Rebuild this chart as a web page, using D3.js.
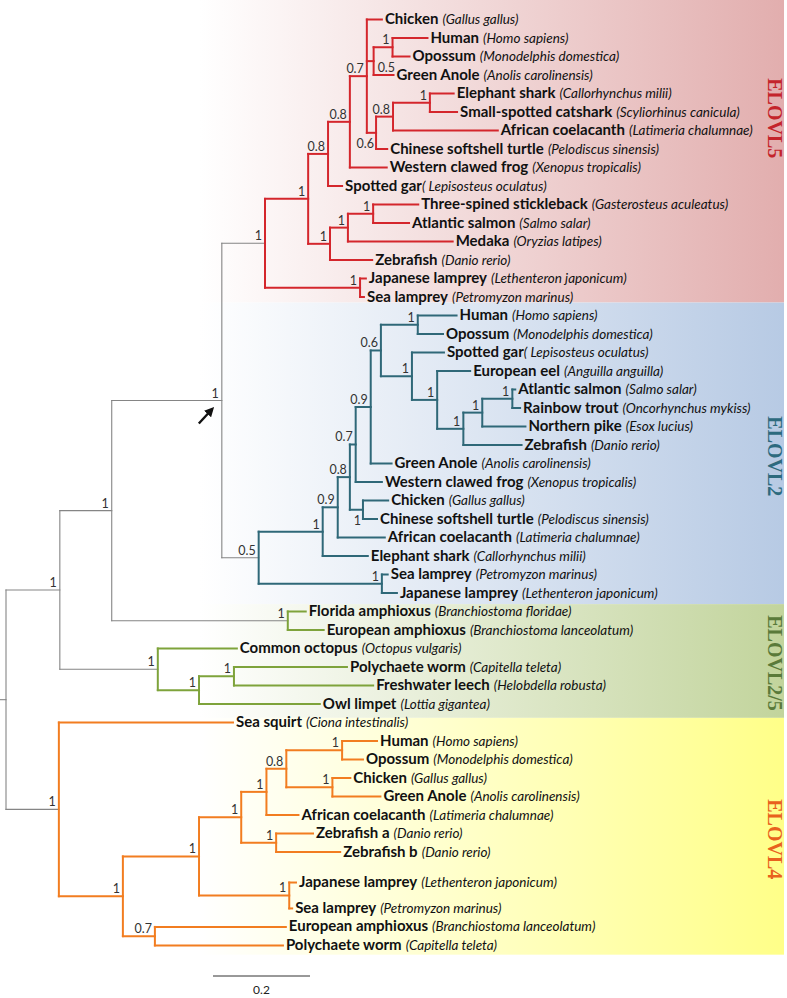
<!DOCTYPE html>
<html><head><meta charset="utf-8">
<script src="https://cdn.jsdelivr.net/npm/d3@7"></script>
<style>body{margin:0;background:#fff}</style>
</head><body>
<svg id="chart" width="787" height="998"></svg>
<script>
// ---------------- DATA ----------------
// internal nodes: [id, parent id, branch length, support]
const backboneNodes = [
  ["root", "", 0, null],
  ["n60", "root", 0.111, 1],
  ["n112", "n60", 0.107, 1],
  ["n222", "n112", 0.227, 1]
];
const elovl5Nodes = [
  ["E5", "n222", 0.089, 1],
  ["a1", "E5", 0.089, 1],
  ["a2", "a1", 0.041, 0.8],
  ["a3", "a2", 0.045, 0.8],
  ["a4", "a3", 0.035, 0.7],
  ["a5", "a4", 0.014, 0.5],
  ["a6", "a5", 0.039, 1],
  ["a7", "a4", 0.019, 0.6],
  ["a8", "a7", 0.035, 0.8],
  ["a9", "a8", 0.076, 1],
  ["a10", "a1", 0.045, 1],
  ["a11", "a10", 0.037, 1],
  ["a12", "a11", 0.052, 1],
  ["a13", "E5", 0.196, 1]
];
// leaves: [common name, species, parent id, branch length] (top-to-bottom order)
const elovl5Leaves = [
  ["Chicken", "(Gallus gallus)", "a4", 0.031],
  ["Human", "(Homo sapiens)", "a6", 0.072],
  ["Opossum", "(Monodelphis domestica)", "a6", 0.035],
  ["Green Anole", "(Anolis carolinensis)", "a5", 0.041],
  ["Elephant shark", "(Callorhynchus milii)", "a9", 0.049],
  ["Small-spotted catshark", "(Scyliorhinus canicula)", "a9", 0.056],
  ["African coelacanth", "(Latimeria chalumnae)", "a8", 0.216],
  ["Chinese softshell turtle", "(Pelodiscus sinensis)", "a7", 0.023],
  ["Western clawed frog", "(Xenopus tropicalis)", "a3", 0.076],
  ["Spotted gar", "( Lepisosteus oculatus)", "a2", 0.029],
  ["Three-spined stickleback", "(Gasterosteus aculeatus)", "a12", 0.093],
  ["Atlantic salmon", "(Salmo salar)", "a12", 0.074],
  ["Medaka", "(Oryzias latipes)", "a11", 0.216],
  ["Zebrafish", "(Danio rerio)", "a10", 0.087],
  ["Japanese lamprey", "(Lethenteron japonicum)", "a13", 0.012],
  ["Sea lamprey", "(Petromyzon marinus)", "a13", 0.008]
];
const elovl2Nodes = [
  ["E2", "n222", 0.076, 0.5],
  ["b1", "E2", 0.132, 1],
  ["b2", "b1", 0.031, 0.9],
  ["b3", "b2", 0.025, 0.8],
  ["b4", "b3", 0.012, 0.7],
  ["b5", "b4", 0.031, 0.9],
  ["b6", "b5", 0.021, 0.6],
  ["b7", "b6", 0.076, 1],
  ["b8", "b6", 0.064, 1],
  ["b9", "b8", 0.052, 1],
  ["b10", "b9", 0.054, 1],
  ["b11", "b10", 0.039, 1],
  ["b12", "b11", 0.062, 1],
  ["b13", "b3", 0.027, 1],
  ["b14", "E2", 0.254, 1]
];
const elovl2Leaves = [
  ["Human", "(Homo sapiens)", "b7", 0.080],
  ["Opossum", "(Monodelphis domestica)", "b7", 0.052],
  ["Spotted gar", "( Lepisosteus oculatus)", "b8", 0.066],
  ["European eel", "(Anguilla anguilla)", "b9", 0.068],
  ["Atlantic salmon", "(Salmo salar)", "b12", 0.006],
  ["Rainbow trout", "(Oncorhynchus mykiss)", "b12", 0.016],
  ["Northern pike", "(Esox lucius)", "b11", 0.089],
  ["Zebrafish", "(Danio rerio)", "b10", 0.120],
  ["Green Anole", "(Anolis carolinensis)", "b5", 0.043],
  ["Western clawed frog", "(Xenopus tropicalis)", "b4", 0.054],
  ["Chicken", "(Gallus gallus)", "b13", 0.052],
  ["Chinese softshell turtle", "(Pelodiscus sinensis)", "b13", 0.029],
  ["African coelacanth", "(Latimeria chalumnae)", "b2", 0.097],
  ["Elephant shark", "(Callorhynchus milii)", "b1", 0.093],
  ["Sea lamprey", "(Petromyzon marinus)", "b14", 0.012],
  ["Japanese lamprey", "(Lethenteron japonicum)", "b14", 0.031]
];
const elovl25Nodes = [
  ["c0", "n112", 0.363, 1],
  ["c1", "n60", 0.202, 1],
  ["c2", "c1", 0.085, 1],
  ["c3", "c2", 0.072, 1]
];
const elovl25Leaves = [
  ["Florida amphioxus", "(Branchiostoma floridae)", "c0", 0.037],
  ["European amphioxus", "(Branchiostoma lanceolatum)", "c0", 0.074],
  ["Common octopus", "(Octopus vulgaris)", "c1", 0.163],
  ["Polychaete worm", "(Capitella teleta)", "c3", 0.233],
  ["Freshwater leech", "(Helobdella robusta)", "c3", 0.287],
  ["Owl limpet", "(Lottia gigantea)", "c2", 0.249]
];
const elovl4Nodes = [
  ["E4", "root", 0.109, 1],
  ["d1", "E4", 0.132, 1],
  ["d2", "d1", 0.157, 1],
  ["d3", "d2", 0.087, 1],
  ["d4", "d3", 0.052, 1],
  ["d5", "d4", 0.041, 0.8],
  ["d6", "d5", 0.115, 1],
  ["d7", "d5", 0.095, 1],
  ["d8", "d3", 0.072, 1],
  ["d9", "d2", 0.186, 1],
  ["d10", "d1", 0.066, 0.7]
];
const elovl4Leaves = [
  ["Sea squirt", "(Ciona intestinalis)", "E4", 0.359],
  ["Human", "(Homo sapiens)", "d6", 0.072],
  ["Opossum", "(Monodelphis domestica)", "d6", 0.043],
  ["Chicken", "(Gallus gallus)", "d7", 0.037],
  ["Green Anole", "(Anolis carolinensis)", "d7", 0.099],
  ["African coelacanth", "(Latimeria chalumnae)", "d4", 0.066],
  ["Zebrafish a", "(Danio rerio)", "d8", 0.076],
  ["Zebrafish b", "(Danio rerio)", "d8", 0.132],
  ["Japanese lamprey", "(Lethenteron japonicum)", "d9", 0.014],
  ["Sea lamprey", "(Petromyzon marinus)", "d9", 0.006],
  ["European amphioxus", "(Branchiostoma lanceolatum)", "d10", 0.270],
  ["Polychaete worm", "(Capitella teleta)", "d10", 0.264]
];
const cladeNames = ["ELOVL5", "ELOVL2", "ELOVL2/5", "ELOVL4"];
const scaleBarValue = 0.2;

// ---------------- LAYOUT / STYLE ----------------
const cladeKeys = ["e5", "e2", "e25", "e4"];
const cladeNodeSets = [elovl5Nodes, elovl2Nodes, elovl25Nodes, elovl4Nodes];
const cladeLeafSets = [elovl5Leaves, elovl2Leaves, elovl25Leaves, elovl4Leaves];
const lineColor = {bb: "#858585", e5: "#d4262c", e2: "#2f6878", e25: "#7ea33b", e4: "#f27d20"};
const bandColor = {e5: "#e2aeae", e2: "#b7cae4", e25: "#c2d49c", e4: "#ffff88"};
const labelColor = {e5: "#c4242b", e2: "#2d6a7e", e25: "#5a7a3a", e4: "#e8621d"};
// extra vertical space (in rows) before some leaves
const extraRows = {"e4:Japanese lamprey": 0.65, "e4:Sea lamprey": 0.4};
// support labels drawn below / right of the node
const labelBelow = ["a7", "b13"];
const labelRight = ["a5"];
// fractional row where each band ends, and vertical shift of band titles
const bandEndFrac = [0.3, 0.6, 0.75, 0.5];
const bandLabelShift = [-33, 3, 2, 3];

const rows = [];
backboneNodes.forEach(n => rows.push({id: n[0], parentId: n[1] || null, len: n[2], support: n[3], clade: "bb"}));
cladeNodeSets.forEach((set, ci) => set.forEach(n => rows.push({id: n[0], parentId: n[1], len: n[2], support: n[3], clade: cladeKeys[ci]})));
let order = 0;
cladeLeafSets.forEach((set, ci) => set.forEach((l, i) => rows.push({
  id: cladeKeys[ci] + "_" + i, parentId: l[2], len: l[3], name: l[0], species: l[1],
  clade: cladeKeys[ci], order: order++
})));

const root = d3.stratify().id(d => d.id).parentId(d => d.parentId)(rows);
root.eachAfter(n => { n.minOrder = n.children ? d3.min(n.children, c => c.minOrder) : n.data.order; });
root.sort((a, b) => a.minOrder - b.minOrder);
root.eachBefore(n => { n.dist = n.parent ? n.parent.dist + n.data.len : 0; });

let r = -1;
const leaves = root.leaves();
leaves.forEach(l => {
  r += 1 + (extraRows[l.data.clade + ":" + l.data.name] || 0);
  l.row = r;
});
const rowStep = 18.5;
const yScale = d3.scaleLinear().domain([0, 1]).range([19.5, 19.5 + rowStep]);
const xScale = d3.scaleLinear().domain([0, 1]).range([6, 6 + 485]);

root.eachAfter(n => {
  n.px = xScale(n.dist);
  if (n.children) {
    n.py = (n.children[0].py + n.children[n.children.length - 1].py) / 2;
  } else n.py = yScale(n.row);
});

const svg = d3.select("#chart");
const defs = svg.append("defs");

// ---- bands ----
let prevBottom = 0;
cladeKeys.forEach((k, i) => {
  const cl = leaves.filter(l => l.data.clade === k);
  const lastRow = d3.max(cl, l => l.row);
  const bottom = yScale(lastRow + bandEndFrac[i]);
  const g = defs.append("linearGradient").attr("id", "g_" + k)
    .attr("x1", 0).attr("x2", 1).attr("y1", 0).attr("y2", 0);
  g.append("stop").attr("offset", 0).attr("stop-color", "#ffffff");
  g.append("stop").attr("offset", 1).attr("stop-color", bandColor[k]);
  svg.append("rect").attr("x", 200).attr("y", prevBottom)
    .attr("width", 584).attr("height", bottom - prevBottom)
    .attr("fill", "url(#g_" + k + ")");
  svg.append("text")
    .attr("transform", `translate(768,${(prevBottom + bottom) / 2 + bandLabelShift[i]}) rotate(90)`)
    .attr("text-anchor", "middle")
    .attr("font-family", "Liberation Serif, serif")
    .attr("font-weight", "bold")
    .attr("font-size", 20)
    .attr("fill", labelColor[k])
    .text(cladeNames[i]);
  prevBottom = bottom;
});

// ---- branches ----
const gLines = svg.append("g").attr("stroke-linecap", "square");
root.descendants().forEach(n => {
  if (n.parent) {
    const same = n.data.clade === n.parent.data.clade;
    const c = same ? lineColor[n.data.clade] : lineColor.bb;
    gLines.append("line")
      .attr("x1", n.parent.px).attr("x2", n.px).attr("y1", n.py).attr("y2", n.py)
      .attr("stroke", c).attr("stroke-width", c === lineColor.bb ? 1.1 : 2);
  }
  if (n.children) {
    const c = lineColor[n.data.clade];
    gLines.append("line")
      .attr("x1", n.px).attr("x2", n.px)
      .attr("y1", n.children[0].py).attr("y2", n.children[n.children.length - 1].py)
      .attr("stroke", c).attr("stroke-width", n.data.clade === "bb" ? 1.1 : 2);
  }
});
gLines.append("line").attr("x1", 0).attr("x2", root.px).attr("y1", root.py).attr("y2", root.py)
  .attr("stroke", lineColor.bb).attr("stroke-width", 1.1);

// ---- support values ----
const gSup = svg.append("g").attr("font-family", "Lato, sans-serif").attr("font-size", 12.5).attr("fill", "#333");
root.descendants().filter(n => n.children && n.parent && n.data.support != null).forEach(n => {
  const t = gSup.append("text").text(n.data.support);
  if (labelBelow.includes(n.data.id)) {
    t.attr("x", n.px - 2).attr("y", n.py + 15).attr("text-anchor", "end");
  } else if (labelRight.includes(n.data.id)) {
    t.attr("x", n.px + 4).attr("y", n.py + 11).attr("text-anchor", "start");
  } else {
    t.attr("x", n.px - 3).attr("y", n.py - 3).attr("text-anchor", "end");
  }
});

// ---- leaf labels ----
const gLab = svg.append("g").attr("font-family", "Lato, sans-serif").attr("fill", "#111");
leaves.forEach(l => {
  const t = gLab.append("text").attr("x", l.px + 3).attr("y", l.py + 4.5);
  t.append("tspan").attr("font-weight", "bold").attr("font-size", 15).text(l.data.name);
  t.append("tspan").attr("font-style", "italic").attr("font-size", 13.5)
    .attr("dx", l.data.species.startsWith("( ") ? 0 : 4).text(l.data.species);
});

// ---- arrow marking the duplication node ----
const dup = root.descendants().find(n => n.data.id === "n222");
defs.append("marker").attr("id", "ah").attr("viewBox", "0 0 10 10").attr("refX", 5).attr("refY", 5)
  .attr("markerWidth", 4).attr("markerHeight", 4).attr("orient", "auto")
  .append("path").attr("d", "M0,0 L10,5 L0,10 z").attr("fill", "#111");
svg.append("line").attr("x1", dup.px - 23).attr("y1", dup.py + 23)
  .attr("x2", dup.px - 11).attr("y2", dup.py + 10)
  .attr("stroke", "#111").attr("stroke-width", 2.4).attr("marker-end", "url(#ah)");

// ---- scale bar ----
const sbX = 213, sbY = 976;
const sbLen = xScale(scaleBarValue) - xScale(0);
svg.append("line").attr("x1", sbX).attr("x2", sbX + sbLen).attr("y1", sbY).attr("y2", sbY)
  .attr("stroke", "#333").attr("stroke-width", 1);
svg.append("text").attr("x", sbX + sbLen / 2).attr("y", sbY + 18).attr("text-anchor", "middle")
  .attr("font-family", "Lato, sans-serif").attr("font-size", 12).attr("fill", "#222").text(scaleBarValue);
</script>
</body></html>
